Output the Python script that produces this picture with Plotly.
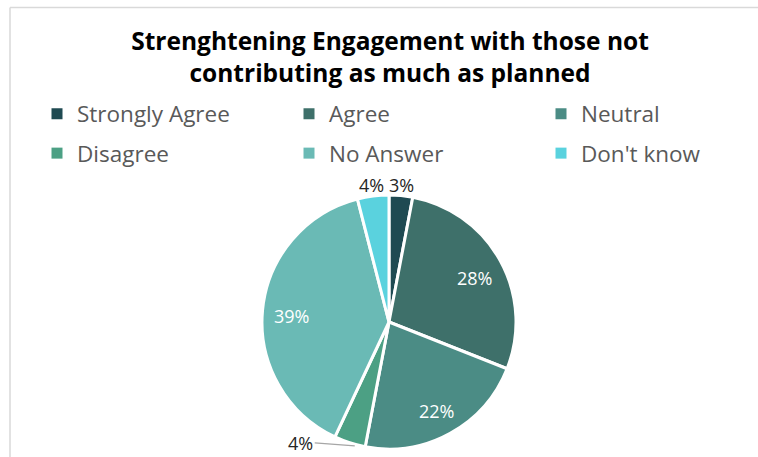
import math
import plotly.graph_objects as go

# Survey responses (percent of respondents)
categories = ["Strongly Agree", "Agree", "Neutral", "Disagree", "No Answer", "Don't know"]
shares = [3, 28, 22, 4, 39, 4]
slice_colors = ["#1F4A52", "#3E706A", "#4B8C85", "#4CA084", "#6ABAB5", "#5AD2DE"]
# how each slice's value label is placed: inside, outside, or outside with a leader line
label_modes = ["outside", "inside", "inside", "leader", "inside", "outside"]

W, H = 758, 457
FONT = "'Open Sans', Lato, sans-serif"
LABEL_SIZE = 18

# pie placement in pixels (centre and radius)
cx, cy, r = 389, 322, 127

fig = go.Figure()
fig.add_trace(go.Pie(
    labels=categories,
    values=shares,
    sort=False,
    direction="clockwise",
    rotation=0,
    marker=dict(colors=slice_colors, line=dict(color="white", width=3)),
    textinfo="none",
    automargin=False,
    showlegend=False,
    hovertemplate="%{label}: %{value}%<extra></extra>",
    domain=dict(x=[(cx - r) / W, (cx + r) / W], y=[1 - (cy + r) / H, 1 - (cy - r) / H]),
))


def slice_point(i, frac):
    """Pixel position at the mid-angle of slice i, at frac * radius from the centre."""
    total = sum(shares)
    mid = (sum(shares[:i]) + shares[i] / 2) / total * 2 * math.pi
    return cx + frac * r * math.sin(mid), cy - frac * r * math.cos(mid)


def to_paper(px, py):
    return px / W, 1 - py / H


# value labels
for i, mode in enumerate(label_modes):
    txt = f"{shares[i]}%"
    if mode == "inside":
        x, y = to_paper(*slice_point(i, 0.77))
        fig.add_annotation(x=x, y=y, xref="paper", yref="paper", text=txt,
                           xanchor="center", yanchor="middle", yshift=-3,
                           showarrow=False,
                           font=dict(color="white", size=LABEL_SIZE, family=FONT))
    elif mode == "outside":
        x, y = to_paper(*slice_point(i, 1.085))
        fig.add_annotation(x=x, y=y, xref="paper", yref="paper", text=txt,
                           xanchor="center", yanchor="middle",
                           showarrow=False,
                           font=dict(color="#262626", size=LABEL_SIZE, family=FONT))
    else:
        px, py = slice_point(i, 1.0)
        x, y = to_paper(px + 5, py + 3)
        fig.add_annotation(x=x, y=y, xref="paper", yref="paper", text=txt,
                           showarrow=True, arrowhead=0, arrowwidth=1.3,
                           arrowcolor="#A6A6A6", ax=-40, ay=-3, xanchor="right",
                           font=dict(color="#262626", size=LABEL_SIZE, family=FONT))

# legend entries, one small legend per entry laid out in a 3 x 2 grid
legend_x = [37, 289, 541]
legend_y = [92.5, 132]
legend_layouts = {}
for i, (name, col) in enumerate(zip(categories, slice_colors)):
    key = "legend" if i == 0 else f"legend{i + 1}"
    fig.add_trace(go.Scatter(
        x=[None], y=[None], mode="markers", name=name,
        marker=dict(symbol="square", size=11, color=col),
        legend=key, hoverinfo="skip",
    ))
    legend_layouts[key] = dict(
        orientation="h",
        x=legend_x[i % 3] / W, xanchor="left",
        y=1 - legend_y[i // 3] / H, yanchor="top",
        font=dict(family=FONT, size=22.5, color="#595959"),
        bgcolor="rgba(0,0,0,0)",
    )

# chart frame (top and left edges visible)
fig.add_shape(type="line", xref="paper", yref="paper",
              x0=10 / W, x1=1, y0=1 - 7.5 / H, y1=1 - 7.5 / H,
              line=dict(color="#D9D9D9", width=1.5))
fig.add_shape(type="line", xref="paper", yref="paper",
              x0=10 / W, x1=10 / W, y0=0, y1=1 - 7.5 / H,
              line=dict(color="#D9D9D9", width=1.5))

fig.update_layout(
    width=W, height=H,
    margin=dict(l=0, r=0, t=0, b=0),
    paper_bgcolor="white",
    plot_bgcolor="white",
    xaxis=dict(visible=False),
    yaxis=dict(visible=False),
    title=dict(
        text="Strenghtening Engagement with those not<br>contributing as much as planned",
        x=390 / W, xanchor="center", y=1 - 50 / H, yanchor="middle",
        font=dict(family=FONT, size=24.5, color="#000000", weight="bold"),
    ),
    **legend_layouts,
)

fig.write_html("out.html")
